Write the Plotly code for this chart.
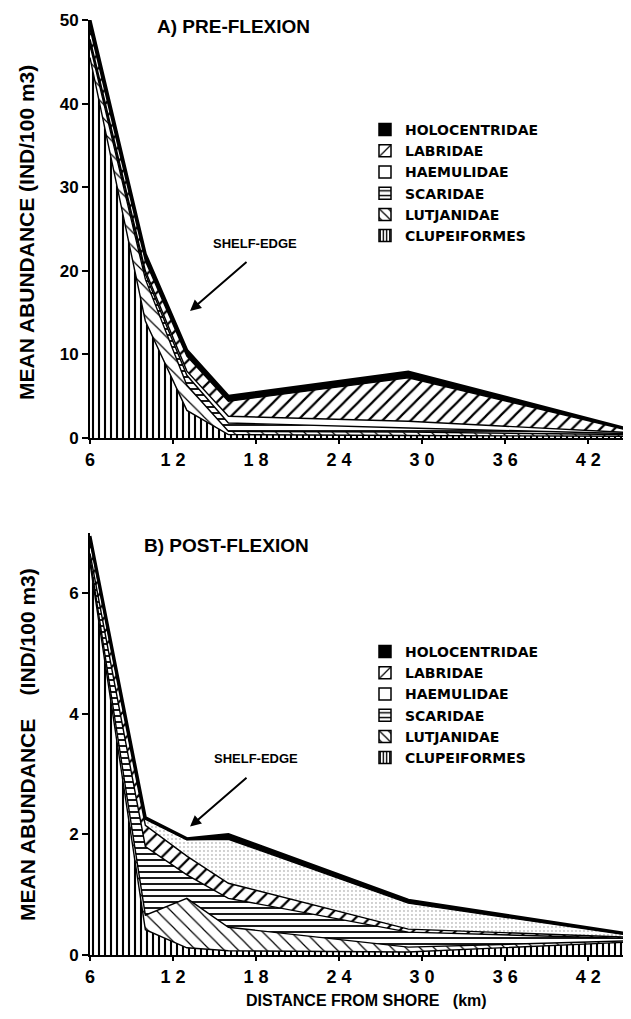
import plotly.graph_objects as go

# ---------------- data ----------------
dist_km = [6, 10, 13, 16, 29, 45.5]
families = ["CLUPEIFORMES", "LUTJANIDAE", "SCARIDAE", "HAEMULIDAE", "LABRIDAE", "HOLOCENTRIDAE"]

# A) pre-flexion (individual layer thickness, stacked bottom -> top)
pre_clupeiformes = [45.5, 14.0, 3.3, 0.4, 0.3, 0.2]
pre_lutjanidae = [1.5, 5.0, 3.0, 0.4, 0.4, 0.2]
pre_scaridae = [0.4, 0.6, 1.2, 1.0, 0.5, 0.1]
pre_haemulidae = [0.3, 0.4, 0.5, 0.8, 0.8, 0.1]
pre_labridae = [1.3, 1.2, 1.8, 1.8, 5.2, 0.1]
pre_holocentridae = [1.0, 0.8, 0.7, 0.6, 0.7, 0.1]

# B) post-flexion
post_clupeiformes = [6.5, 0.42, 0.12, 0.07, 0.05, 0.22]
post_lutjanidae = [0.08, 0.24, 0.82, 0.39, 0.08, 0.02]
post_scaridae = [0.08, 1.14, 0.39, 0.48, 0.25, 0.03]
post_labridae = [0.2, 0.35, 0.31, 0.25, 0.05, 0.02]
post_haemulidae = [0.06, 0.1, 0.27, 0.73, 0.43, 0.02]
post_holocentridae = [0.03, 0.03, 0.02, 0.08, 0.05, 0.02]

x_tickvals = [6, 12, 18, 24, 30, 36, 42]
x_ticktext = ["6", "1 2", "1 8", "2 4", "3 0", "3 6", "4 2"]
pre_yticks = [0, 10, 20, 30, 40, 50]
post_yticks = [0, 2, 4, 6]

legend_order = ["HOLOCENTRIDAE", "LABRIDAE", "HAEMULIDAE", "SCARIDAE", "LUTJANIDAE", "CLUPEIFORMES"]

# ---------------- styles ----------------
FONT = "Liberation Sans"
W, H = 631, 1019
L, R, T, B = 82, 1, 12, 72
plot_h = H - T - B
plot_w = W - L - R


def py(pix):
    return (H - B - pix) / plot_h


def px(pix):
    return (pix - L) / plot_w


area_patterns = {
    "CLUPEIFORMES": dict(shape="|", size=6, solidity=0.35),
    "LUTJANIDAE": dict(shape="\\", size=10, solidity=0.12),
    "SCARIDAE": dict(shape="-", size=6, solidity=0.3),
    "HAEMULIDAE_pre": None,
    "HAEMULIDAE_post": dict(shape=".", size=4, solidity=0.1, fgcolor="#8a8a8a"),
    "LABRIDAE": dict(shape="/", size=10, solidity=0.22),
}
legend_patterns = {
    "CLUPEIFORMES": dict(shape="|", size=4, solidity=0.45),
    "LUTJANIDAE": dict(shape="\\", size=8, solidity=0.2),
    "SCARIDAE": dict(shape="-", size=6, solidity=0.3),
    "HAEMULIDAE": None,
    "LABRIDAE": dict(shape="/", size=12, solidity=0.15),
    "HOLOCENTRIDAE": None,
}


def full_pattern(p):
    d = dict(fgcolor="black", bgcolor="white", fillmode="replace")
    d.update(p)
    return d


fig = go.Figure()


def add_layer(name, values, xa, ya, group, pattern_key):
    kw = {}
    if name == "HOLOCENTRIDAE":
        kw["fillcolor"] = "black"
        lw = 3
    else:
        lw = 1.4
        kw["fillcolor"] = "white"
        pat = area_patterns.get(pattern_key)
        if pat is not None:
            kw["fillpattern"] = full_pattern(pat)
    fig.add_trace(go.Scatter(
        x=dist_km, y=values, name=name, mode="lines",
        line=dict(color="black", width=lw, shape="linear"),
        stackgroup=group, xaxis=xa, yaxis=ya, showlegend=False,
        hoverinfo="skip", **kw))


def add_legend_proxy(name, xa, ya, legend):
    pat = legend_patterns[name]
    marker = dict(color="black" if name == "HOLOCENTRIDAE" else "white",
                  line=dict(color="black", width=1.5))
    if pat is not None:
        marker["pattern"] = full_pattern(pat)
    fig.add_trace(go.Bar(x=[None], y=[None], name=name, marker=marker,
                         xaxis=xa, yaxis=ya, legend=legend,
                         legendrank=legend_order.index(name) + 1, hoverinfo="skip"))


pre_layers = [
    ("CLUPEIFORMES", pre_clupeiformes, "CLUPEIFORMES"),
    ("LUTJANIDAE", pre_lutjanidae, "LUTJANIDAE"),
    ("SCARIDAE", pre_scaridae, "SCARIDAE"),
    ("HAEMULIDAE", pre_haemulidae, "HAEMULIDAE_pre"),
    ("LABRIDAE", pre_labridae, "LABRIDAE"),
    ("HOLOCENTRIDAE", pre_holocentridae, None),
]
post_layers = [
    ("CLUPEIFORMES", post_clupeiformes, "CLUPEIFORMES"),
    ("LUTJANIDAE", post_lutjanidae, "LUTJANIDAE"),
    ("SCARIDAE", post_scaridae, "SCARIDAE"),
    ("LABRIDAE", post_labridae, "LABRIDAE"),
    ("HAEMULIDAE", post_haemulidae, "HAEMULIDAE_post"),
    ("HOLOCENTRIDAE", post_holocentridae, None),
]
for n, v, p in pre_layers:
    add_layer(n, v, "x", "y", "pre", p)
for n, v, p in post_layers:
    add_layer(n, v, "x2", "y2", "post", p)
for n in legend_order:
    add_legend_proxy(n, "x", "y", "legend")
for n in legend_order:
    add_legend_proxy(n, "x2", "y2", "legend2")

tickfont = dict(family=FONT, size=18, color="black", weight="bold")
xcommon = dict(range=[6, 45.6], tickvals=x_tickvals, ticktext=x_ticktext, showline=True,
               linecolor="black", linewidth=2, ticks="outside", ticklen=4, tickwidth=1.5,
               tickcolor="black", showgrid=False, zeroline=False, tickfont=tickfont, fixedrange=True)
ycommon = dict(showline=True, linecolor="black", linewidth=2, ticks="outside", ticklen=6,
               tickwidth=1.5, tickcolor="black", showgrid=False, zeroline=False,
               tickfont=dict(family=FONT, size=17, color="black", weight="bold"), fixedrange=True)

legfont = dict(family="DejaVu Sans", size=14, color="black", weight="bold")
legcommon = dict(xanchor="left", yanchor="top", font=legfont, traceorder="normal",
                 bgcolor="rgba(0,0,0,0)", itemclick=False, itemdoubleclick=False,
                 itemwidth=30, tracegroupgap=0)
fig.update_layout(
    width=W, height=H, autosize=False,
    margin=dict(l=L, r=R, t=T, b=B),
    paper_bgcolor="white", plot_bgcolor="white",
    showlegend=True, barmode="overlay",
    xaxis=dict(domain=[0, 1], anchor="y", **xcommon),
    yaxis=dict(domain=[py(430), 1], anchor="x", range=[0, 50], tickvals=pre_yticks, **ycommon),
    xaxis2=dict(domain=[0, 1], anchor="y2", **xcommon),
    yaxis2=dict(domain=[0, py(525)], anchor="x2", range=[0, 7], tickvals=post_yticks, **ycommon),
    legend=dict(x=px(357), y=py(106), **legcommon),
    legend2=dict(x=px(357), y=py(628), **legcommon),
)

title_font = dict(family=FONT, size=19, color="black", weight="bold")
axis_title_font = dict(family=FONT, size=21, color="black", weight="bold")


def paper_text(text, xp, yp, font, angle=0):
    return dict(text=text, x=px(xp), y=py(yp), xref="paper", yref="paper", xanchor="center",
                yanchor="middle", textangle=angle, showarrow=False, font=font)


ann = [
    paper_text("A) PRE-FLEXION", 225, 18, title_font),
    paper_text("B) POST-FLEXION", 218, 537, title_font),
    paper_text("MEAN ABUNDANCE (IND/100 m3)", 19, 225, axis_title_font, -90),
    paper_text("MEAN ABUNDANCE    (IND/100 m3)", 19, 737, axis_title_font, -90),
    paper_text("DISTANCE FROM SHORE   (km)", 358, 992, dict(family=FONT, size=16, color="black", weight="bold")),
    # shelf-edge labels
    dict(text="SHELF-EDGE", x=17.93, y=23.3, xref="x", yref="y", showarrow=False,
         xanchor="center", yanchor="middle",
         font=dict(family=FONT, size=13, color="black", weight="bold")),
    dict(text="", x=13.23, y=15.2, ax=17.42, ay=21.2, xref="x", yref="y", axref="x", ayref="y",
         showarrow=True, arrowhead=2, arrowsize=1.1, arrowwidth=2, arrowcolor="black"),
    dict(text="SHELF-EDGE", x=18.0, y=3.26, xref="x2", yref="y2", showarrow=False,
         xanchor="center", yanchor="middle",
         font=dict(family=FONT, size=13, color="black", weight="bold")),
    dict(text="", x=13.23, y=2.13, ax=17.42, ay=2.96, xref="x2", yref="y2", axref="x2", ayref="y2",
         showarrow=True, arrowhead=2, arrowsize=1.1, arrowwidth=2, arrowcolor="black"),
]
fig.update_layout(annotations=ann)

fig.write_html("out.html", config={"displayModeBar": False})
